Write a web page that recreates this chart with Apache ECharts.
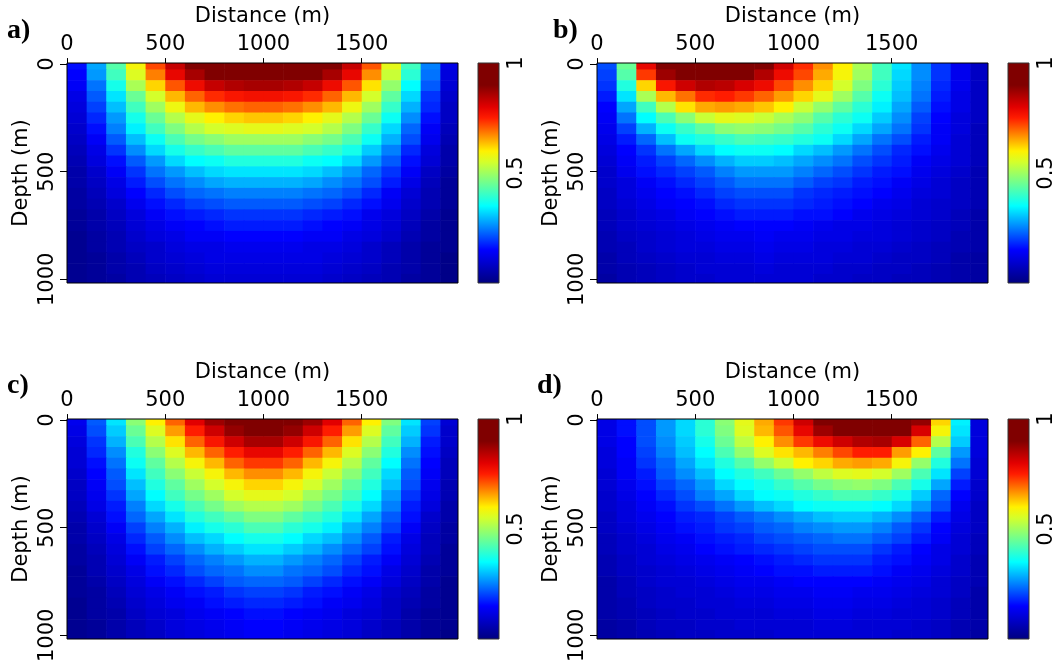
<!DOCTYPE html>
<html>
<head>
<meta charset="utf-8">
<title>Illumination panels</title>
<script src="https://cdn.jsdelivr.net/npm/echarts@6/dist/echarts.min.js"></script>
<style>
  html, body { margin: 0; padding: 0; background: #fff; }
  #chart { width: 1060px; height: 665px; }
</style>
</head>
<body>
<div id="chart"></div>
<script>
// cell centres (m)
const distances = [50, 150, 250, 350, 450, 550, 650, 750, 850, 950, 1050, 1150, 1250, 1350, 1450, 1550, 1650, 1750, 1850, 1950]
const depths = [0, 50, 100, 150, 200, 250, 300, 350, 400, 450, 500, 550, 600, 650, 700, 750, 800, 850, 900, 950, 1000]

const distanceTicks = [0, 500, 1000, 1500]
const depthTicks = [0, 500, 1000]
const colorTicks = [0.5, 1]
const colorRange = [0, 1]

// values, one row per depth
const panelA = [
  [0.16,0.28,0.43,0.59,0.72,0.83,0.91,0.96,0.99,1.00,1.00,0.99,0.96,0.91,0.83,0.71,0.57,0.41,0.25,0.12],
  [0.15,0.27,0.41,0.56,0.68,0.79,0.86,0.91,0.94,0.95,0.95,0.94,0.91,0.86,0.79,0.67,0.54,0.39,0.24,0.11],
  [0.14,0.24,0.37,0.51,0.62,0.71,0.78,0.83,0.85,0.86,0.86,0.85,0.83,0.78,0.71,0.61,0.49,0.35,0.22,0.10],
  [0.12,0.22,0.33,0.45,0.55,0.64,0.70,0.74,0.76,0.77,0.77,0.76,0.74,0.70,0.64,0.55,0.44,0.32,0.19,0.09],
  [0.11,0.20,0.30,0.41,0.50,0.58,0.64,0.67,0.69,0.70,0.70,0.69,0.67,0.64,0.58,0.50,0.40,0.29,0.18,0.08],
  [0.10,0.18,0.27,0.37,0.45,0.52,0.57,0.60,0.62,0.63,0.63,0.62,0.60,0.57,0.52,0.45,0.36,0.26,0.16,0.08],
  [0.09,0.16,0.25,0.34,0.41,0.47,0.52,0.55,0.56,0.57,0.57,0.56,0.55,0.52,0.47,0.40,0.32,0.23,0.14,0.07],
  [0.08,0.14,0.22,0.30,0.36,0.42,0.46,0.48,0.50,0.50,0.50,0.50,0.48,0.46,0.42,0.36,0.29,0.21,0.13,0.06],
  [0.07,0.12,0.19,0.26,0.32,0.37,0.40,0.42,0.44,0.44,0.44,0.44,0.42,0.40,0.37,0.31,0.25,0.18,0.11,0.05],
  [0.06,0.11,0.16,0.22,0.27,0.32,0.35,0.36,0.38,0.38,0.38,0.38,0.36,0.35,0.32,0.27,0.22,0.16,0.10,0.05],
  [0.05,0.09,0.14,0.19,0.24,0.27,0.30,0.32,0.33,0.33,0.33,0.33,0.32,0.30,0.27,0.23,0.19,0.14,0.08,0.04],
  [0.05,0.08,0.12,0.17,0.21,0.24,0.26,0.28,0.29,0.29,0.29,0.29,0.28,0.26,0.24,0.21,0.17,0.12,0.07,0.03],
  [0.04,0.07,0.11,0.15,0.18,0.21,0.23,0.24,0.25,0.25,0.25,0.25,0.24,0.23,0.21,0.18,0.14,0.10,0.06,0.03],
  [0.04,0.06,0.09,0.13,0.16,0.18,0.20,0.21,0.22,0.22,0.22,0.22,0.21,0.20,0.18,0.16,0.13,0.09,0.06,0.03],
  [0.03,0.05,0.08,0.11,0.14,0.16,0.17,0.18,0.19,0.19,0.19,0.19,0.18,0.17,0.16,0.13,0.11,0.08,0.05,0.02],
  [0.03,0.05,0.07,0.10,0.12,0.14,0.15,0.16,0.17,0.17,0.17,0.17,0.16,0.15,0.14,0.12,0.10,0.07,0.04,0.02],
  [0.02,0.04,0.06,0.09,0.11,0.12,0.14,0.14,0.15,0.15,0.15,0.15,0.14,0.14,0.12,0.11,0.09,0.06,0.04,0.02],
  [0.02,0.04,0.06,0.08,0.09,0.11,0.12,0.12,0.13,0.13,0.13,0.13,0.12,0.12,0.11,0.09,0.07,0.05,0.03,0.02],
  [0.02,0.03,0.05,0.07,0.09,0.10,0.11,0.12,0.12,0.12,0.12,0.12,0.12,0.11,0.10,0.09,0.07,0.05,0.03,0.01],
  [0.02,0.03,0.05,0.06,0.08,0.09,0.10,0.11,0.11,0.11,0.11,0.11,0.11,0.10,0.09,0.08,0.06,0.05,0.03,0.01],
  [0.02,0.03,0.04,0.06,0.07,0.08,0.09,0.10,0.10,0.10,0.10,0.10,0.10,0.09,0.08,0.07,0.06,0.04,0.03,0.01]
]

const panelB = [
  [0.21,0.45,0.79,0.94,0.97,1.00,0.98,0.94,0.91,0.82,0.74,0.67,0.60,0.51,0.41,0.33,0.26,0.19,0.13,0.08],
  [0.20,0.43,0.73,0.87,0.92,0.94,0.93,0.91,0.85,0.78,0.72,0.65,0.59,0.50,0.41,0.32,0.26,0.19,0.13,0.08],
  [0.19,0.38,0.62,0.76,0.82,0.85,0.84,0.81,0.78,0.72,0.67,0.62,0.55,0.47,0.39,0.31,0.25,0.18,0.13,0.08],
  [0.17,0.33,0.51,0.64,0.69,0.74,0.75,0.73,0.70,0.66,0.62,0.57,0.50,0.43,0.36,0.30,0.24,0.17,0.12,0.08],
  [0.15,0.28,0.41,0.52,0.61,0.65,0.66,0.65,0.63,0.60,0.54,0.49,0.44,0.39,0.34,0.28,0.22,0.16,0.12,0.08],
  [0.14,0.24,0.35,0.42,0.48,0.54,0.57,0.56,0.54,0.51,0.48,0.43,0.39,0.36,0.31,0.26,0.20,0.15,0.11,0.08],
  [0.13,0.20,0.29,0.36,0.40,0.44,0.48,0.49,0.48,0.46,0.43,0.39,0.36,0.32,0.28,0.24,0.19,0.14,0.11,0.07],
  [0.12,0.17,0.23,0.30,0.36,0.38,0.40,0.42,0.41,0.40,0.38,0.36,0.32,0.28,0.24,0.21,0.17,0.14,0.10,0.07],
  [0.11,0.15,0.19,0.24,0.28,0.32,0.35,0.36,0.36,0.35,0.32,0.30,0.27,0.24,0.21,0.18,0.16,0.13,0.10,0.07],
  [0.10,0.14,0.17,0.20,0.23,0.26,0.29,0.31,0.31,0.30,0.28,0.26,0.24,0.21,0.19,0.17,0.14,0.12,0.10,0.07],
  [0.09,0.13,0.16,0.18,0.20,0.22,0.25,0.27,0.27,0.27,0.25,0.23,0.21,0.19,0.17,0.16,0.13,0.11,0.09,0.06],
  [0.09,0.11,0.14,0.16,0.18,0.20,0.22,0.24,0.24,0.24,0.22,0.20,0.19,0.17,0.16,0.14,0.12,0.10,0.08,0.06],
  [0.08,0.11,0.13,0.15,0.16,0.18,0.20,0.21,0.21,0.21,0.19,0.18,0.17,0.16,0.15,0.13,0.11,0.10,0.08,0.06],
  [0.08,0.10,0.12,0.14,0.15,0.16,0.18,0.19,0.19,0.19,0.18,0.17,0.16,0.15,0.13,0.12,0.10,0.09,0.08,0.06],
  [0.07,0.09,0.11,0.12,0.14,0.15,0.16,0.17,0.17,0.17,0.16,0.16,0.15,0.13,0.12,0.11,0.10,0.09,0.07,0.05],
  [0.07,0.09,0.10,0.11,0.12,0.13,0.14,0.15,0.15,0.15,0.14,0.13,0.12,0.12,0.11,0.10,0.09,0.08,0.07,0.05],
  [0.06,0.08,0.09,0.10,0.11,0.12,0.13,0.13,0.14,0.13,0.13,0.12,0.12,0.11,0.11,0.10,0.09,0.08,0.06,0.05],
  [0.06,0.07,0.09,0.10,0.11,0.11,0.12,0.12,0.13,0.12,0.12,0.11,0.11,0.10,0.10,0.09,0.08,0.07,0.06,0.05],
  [0.05,0.07,0.08,0.09,0.10,0.10,0.11,0.11,0.12,0.11,0.11,0.11,0.10,0.10,0.09,0.08,0.08,0.07,0.05,0.04],
  [0.05,0.06,0.07,0.08,0.09,0.10,0.10,0.10,0.11,0.10,0.10,0.10,0.09,0.09,0.08,0.08,0.07,0.06,0.05,0.04],
  [0.04,0.06,0.07,0.08,0.09,0.09,0.10,0.10,0.10,0.10,0.10,0.09,0.09,0.08,0.08,0.07,0.07,0.06,0.05,0.04]
]

const panelC = [
  [0.13,0.22,0.33,0.48,0.60,0.70,0.80,0.87,0.94,0.99,0.99,0.94,0.87,0.80,0.70,0.60,0.47,0.33,0.20,0.10],
  [0.12,0.21,0.31,0.45,0.56,0.66,0.75,0.82,0.88,0.93,0.93,0.88,0.82,0.75,0.66,0.56,0.44,0.31,0.19,0.09],
  [0.11,0.19,0.29,0.42,0.52,0.61,0.70,0.76,0.82,0.86,0.86,0.82,0.76,0.70,0.61,0.52,0.41,0.29,0.17,0.09],
  [0.10,0.18,0.26,0.38,0.48,0.56,0.64,0.70,0.75,0.79,0.79,0.75,0.70,0.64,0.56,0.48,0.38,0.26,0.16,0.08],
  [0.10,0.16,0.24,0.36,0.44,0.52,0.59,0.64,0.70,0.73,0.73,0.70,0.64,0.59,0.52,0.44,0.35,0.24,0.15,0.07],
  [0.09,0.15,0.22,0.33,0.41,0.48,0.54,0.59,0.64,0.67,0.67,0.64,0.59,0.54,0.48,0.41,0.32,0.22,0.14,0.07],
  [0.08,0.14,0.21,0.30,0.38,0.44,0.50,0.55,0.59,0.62,0.62,0.59,0.55,0.50,0.44,0.38,0.30,0.21,0.13,0.06],
  [0.08,0.13,0.19,0.28,0.35,0.41,0.46,0.50,0.55,0.57,0.57,0.55,0.50,0.46,0.41,0.35,0.27,0.19,0.12,0.06],
  [0.07,0.12,0.17,0.25,0.32,0.37,0.42,0.46,0.50,0.52,0.52,0.50,0.46,0.42,0.37,0.32,0.25,0.17,0.11,0.05],
  [0.06,0.10,0.16,0.23,0.28,0.33,0.38,0.41,0.44,0.47,0.47,0.44,0.41,0.38,0.33,0.28,0.22,0.16,0.09,0.05],
  [0.05,0.09,0.14,0.20,0.25,0.29,0.34,0.37,0.39,0.42,0.42,0.39,0.37,0.34,0.29,0.25,0.20,0.14,0.08,0.04],
  [0.05,0.08,0.12,0.18,0.22,0.26,0.30,0.32,0.35,0.37,0.37,0.35,0.32,0.30,0.26,0.22,0.17,0.12,0.07,0.04],
  [0.04,0.07,0.11,0.16,0.20,0.23,0.26,0.29,0.31,0.33,0.33,0.31,0.29,0.26,0.23,0.20,0.16,0.11,0.07,0.03],
  [0.04,0.06,0.10,0.14,0.17,0.20,0.23,0.25,0.27,0.29,0.29,0.27,0.25,0.23,0.20,0.17,0.14,0.10,0.06,0.03],
  [0.03,0.06,0.09,0.12,0.16,0.18,0.21,0.23,0.24,0.26,0.26,0.24,0.23,0.21,0.18,0.16,0.12,0.09,0.05,0.03],
  [0.03,0.05,0.08,0.11,0.14,0.16,0.18,0.20,0.22,0.23,0.23,0.22,0.20,0.18,0.16,0.14,0.11,0.08,0.05,0.02],
  [0.03,0.04,0.07,0.10,0.12,0.14,0.16,0.17,0.19,0.20,0.20,0.19,0.17,0.16,0.14,0.12,0.09,0.07,0.04,0.02],
  [0.02,0.04,0.06,0.09,0.11,0.13,0.14,0.16,0.17,0.18,0.18,0.17,0.16,0.14,0.13,0.11,0.08,0.06,0.04,0.02],
  [0.02,0.04,0.05,0.08,0.10,0.11,0.13,0.14,0.15,0.16,0.16,0.15,0.14,0.13,0.11,0.10,0.08,0.05,0.03,0.02],
  [0.02,0.03,0.05,0.07,0.09,0.11,0.12,0.13,0.14,0.15,0.15,0.14,0.13,0.12,0.11,0.09,0.07,0.05,0.03,0.02],
  [0.02,0.03,0.05,0.07,0.08,0.10,0.11,0.12,0.13,0.14,0.14,0.13,0.12,0.11,0.10,0.08,0.07,0.05,0.03,0.01]
]

const panelD = [
  [0.12,0.16,0.21,0.27,0.32,0.39,0.48,0.57,0.65,0.73,0.82,0.92,0.96,0.99,1.00,0.96,0.88,0.62,0.34,0.11],
  [0.12,0.16,0.21,0.27,0.32,0.39,0.47,0.56,0.64,0.71,0.79,0.87,0.92,0.94,0.95,0.91,0.81,0.59,0.33,0.11],
  [0.12,0.15,0.21,0.26,0.31,0.37,0.45,0.53,0.60,0.67,0.73,0.78,0.82,0.85,0.86,0.81,0.70,0.52,0.31,0.11],
  [0.11,0.15,0.20,0.25,0.30,0.35,0.42,0.49,0.56,0.61,0.64,0.68,0.72,0.75,0.75,0.66,0.60,0.44,0.27,0.11],
  [0.11,0.14,0.19,0.23,0.28,0.33,0.38,0.43,0.49,0.54,0.60,0.62,0.65,0.66,0.65,0.59,0.49,0.38,0.24,0.10],
  [0.10,0.14,0.17,0.22,0.26,0.30,0.35,0.38,0.41,0.45,0.49,0.53,0.56,0.57,0.55,0.50,0.42,0.33,0.20,0.10],
  [0.10,0.13,0.16,0.20,0.23,0.27,0.32,0.35,0.37,0.40,0.43,0.46,0.48,0.49,0.47,0.42,0.37,0.28,0.17,0.09],
  [0.09,0.12,0.15,0.18,0.21,0.25,0.28,0.32,0.35,0.36,0.38,0.40,0.42,0.42,0.40,0.37,0.31,0.23,0.15,0.09],
  [0.09,0.11,0.14,0.16,0.19,0.21,0.24,0.27,0.30,0.32,0.35,0.36,0.36,0.36,0.35,0.32,0.27,0.21,0.13,0.08],
  [0.08,0.11,0.13,0.15,0.17,0.18,0.20,0.22,0.24,0.26,0.28,0.30,0.31,0.31,0.29,0.26,0.22,0.17,0.12,0.08],
  [0.08,0.10,0.12,0.14,0.16,0.17,0.19,0.20,0.22,0.23,0.25,0.26,0.27,0.27,0.25,0.22,0.19,0.15,0.11,0.08],
  [0.07,0.09,0.11,0.13,0.14,0.16,0.17,0.18,0.20,0.21,0.22,0.23,0.24,0.24,0.22,0.20,0.17,0.14,0.10,0.07],
  [0.07,0.09,0.10,0.12,0.13,0.15,0.16,0.17,0.18,0.19,0.20,0.21,0.21,0.21,0.19,0.17,0.15,0.12,0.10,0.07],
  [0.06,0.08,0.10,0.11,0.12,0.13,0.14,0.15,0.16,0.17,0.18,0.19,0.19,0.19,0.17,0.16,0.14,0.12,0.09,0.06],
  [0.06,0.08,0.09,0.10,0.11,0.12,0.13,0.14,0.15,0.16,0.16,0.17,0.17,0.17,0.16,0.14,0.13,0.11,0.09,0.06],
  [0.05,0.07,0.09,0.10,0.10,0.11,0.12,0.13,0.13,0.14,0.15,0.15,0.15,0.15,0.14,0.13,0.12,0.10,0.08,0.06],
  [0.05,0.07,0.08,0.09,0.10,0.10,0.11,0.12,0.12,0.13,0.13,0.14,0.14,0.13,0.13,0.12,0.11,0.10,0.08,0.05],
  [0.05,0.06,0.08,0.09,0.09,0.10,0.10,0.11,0.11,0.12,0.12,0.13,0.13,0.12,0.12,0.11,0.10,0.09,0.07,0.05],
  [0.05,0.06,0.07,0.08,0.09,0.09,0.10,0.10,0.10,0.11,0.11,0.12,0.12,0.11,0.11,0.10,0.10,0.09,0.07,0.05],
  [0.04,0.05,0.07,0.08,0.08,0.09,0.09,0.10,0.10,0.10,0.10,0.11,0.11,0.10,0.10,0.10,0.09,0.08,0.06,0.05],
  [0.04,0.05,0.06,0.07,0.08,0.08,0.09,0.09,0.09,0.10,0.10,0.10,0.10,0.10,0.10,0.09,0.09,0.08,0.06,0.04]
]

// jet-like colour scale, 0 .. 1 in steps of 0.05
const jetColors = ['#000080','#0000aa','#0000d5','#0000ff','#0040ff','#0080ff','#00bfff','#00ffff',
  '#35ffca','#6aff95','#9fff60','#d4ff2b','#fff100','#ffaa00','#ff6300','#ff1c00',
  '#e20000','#b10000','#800000','#800000','#800000']

const FONT = 'DejaVu Sans'
const PW = 391, PH = 220, CB_GAP = 20, CB_W = 21

const panels = [
  { label: 'a)', values: panelA, left: 67, top: 63, labelLeft: 7, labelTop: 17 },
  { label: 'b)', values: panelB, left: 597, top: 63, labelLeft: 553, labelTop: 17 },
  { label: 'c)', values: panelC, left: 67, top: 419, labelLeft: 7, labelTop: 372 },
  { label: 'd)', values: panelD, left: 597, top: 419, labelLeft: 537, labelTop: 372 }
]

const halfDx = (distances[1] - distances[0]) / 2
const halfDz = (depths[1] - depths[0]) / 2

function renderCell(params, api) {
  const x = api.value(0)
  const z = api.value(1)
  const a = api.coord([x - halfDx, z - halfDz])
  const b = api.coord([x + halfDx, z + halfDz])
  return {
    type: 'rect',
    shape: {
      x: Math.min(a[0], b[0]),
      y: Math.min(a[1], b[1]),
      width: Math.abs(b[0] - a[0]) + 0.6,
      height: Math.abs(b[1] - a[1]) + 0.6
    },
    style: { fill: api.visual('color') }
  }
}

const barGradient = new echarts.graphic.LinearGradient(0, 1, 0, 0,
  jetColors.map((c, k) => ({ offset: k / (jetColors.length - 1), color: c })))

function renderBar(params, api) {
  const lo = api.coord([0, api.value(0)])
  const hi = api.coord([1, api.value(1)])
  return {
    type: 'rect',
    shape: { x: lo[0], y: hi[1], width: hi[0] - lo[0], height: lo[1] - hi[1] },
    style: { fill: barGradient }
  }
}

const plain = v => String(v)
const textStyle = { fontFamily: FONT, fontSize: 21, color: '#000' }

const grid = [], xAxis = [], yAxis = [], series = [], title = []
const fieldSeries = []

panels.forEach((p, i) => {
  const g = i * 2
  const cb = i * 2 + 1
  grid.push({ left: p.left, top: p.top, width: PW, height: PH, show: true, containLabel: false,
    outerBoundsMode: 'none', borderColor: '#000', borderWidth: 1, backgroundColor: 'transparent', z: 5 })
  grid.push({ left: p.left + PW + CB_GAP, top: p.top, width: CB_W, height: PH, show: true, containLabel: false,
    outerBoundsMode: 'none', borderColor: '#333', borderWidth: 1, backgroundColor: 'transparent', z: 5 })

  xAxis.push({
    gridIndex: g, type: 'value', position: 'top', min: 0, max: 1990,
    name: 'Distance (m)', nameLocation: 'middle', nameGap: 36, nameTextStyle: textStyle,
    axisLine: { show: false },
    axisTick: { show: true, customValues: distanceTicks, length: 6, lineStyle: { color: '#000', width: 1 } },
    axisLabel: { customValues: distanceTicks, margin: 8, formatter: plain, ...textStyle },
    splitLine: { show: false }
  })
  yAxis.push({
    gridIndex: g, type: 'value', position: 'left', inverse: true, min: -5, max: 1017,
    name: 'Depth (m)', nameLocation: 'middle', nameGap: 35, nameRotate: 90, nameTextStyle: textStyle,
    axisLine: { show: false },
    axisTick: { show: true, customValues: depthTicks, length: 7, lineStyle: { color: '#000', width: 1 } },
    axisLabel: { customValues: depthTicks, rotate: 90, margin: 9, formatter: plain, ...textStyle },
    splitLine: { show: false }
  })
  xAxis.push({ gridIndex: cb, type: 'value', min: 0, max: 1, show: false })
  yAxis.push({
    gridIndex: cb, type: 'value', position: 'right', min: 0, max: 1,
    axisLine: { show: false },
    axisTick: { show: true, customValues: colorTicks, length: 6, lineStyle: { color: '#000', width: 1 } },
    axisLabel: { customValues: colorTicks, rotate: 90, margin: 7, formatter: plain, ...textStyle },
    splitLine: { show: false }
  })

  const cells = []
  p.values.forEach((row, r) => {
    row.forEach((v, c) => cells.push([distances[c], depths[r], v]))
  })
  fieldSeries.push(series.length)
  series.push({
    type: 'custom', coordinateSystem: 'cartesian2d', xAxisIndex: g, yAxisIndex: g,
    clip: true, silent: true, renderItem: renderCell, data: cells
  })
  series.push({
    type: 'custom', coordinateSystem: 'cartesian2d', xAxisIndex: cb, yAxisIndex: cb,
    clip: true, silent: true, renderItem: renderBar, data: [colorRange]
  })

  title.push({
    text: p.label, left: p.labelLeft, top: p.labelTop, padding: 0,
    textStyle: { fontFamily: 'Liberation Serif', fontWeight: 'bold', fontSize: 28, color: '#000' }
  })
})

const chart = echarts.init(document.getElementById('chart'), null, { renderer: 'canvas' })
chart.setOption({
  animation: false,
  backgroundColor: '#fff',
  title: title,
  grid: grid,
  xAxis: xAxis,
  yAxis: yAxis,
  visualMap: {
    type: 'continuous', show: false, min: 0, max: 1, dimension: 2,
    seriesIndex: fieldSeries, inRange: { color: jetColors }
  },
  series: series
})
</script>
</body>
</html>
